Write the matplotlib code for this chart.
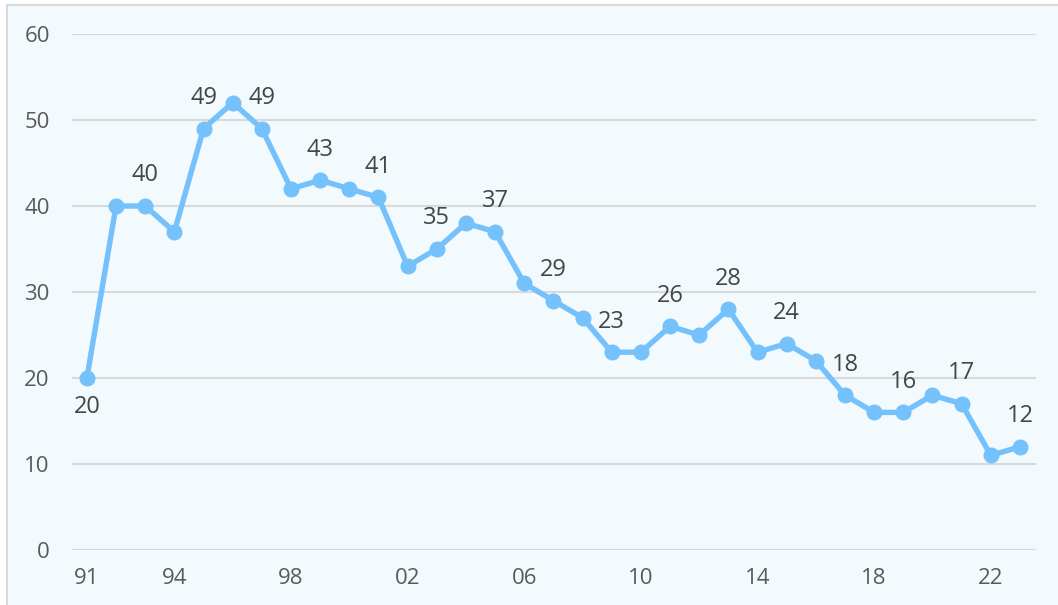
import matplotlib.pyplot as plt
from matplotlib.patches import Rectangle

plt.rcParams['font.family'] = ['Open Sans', 'DejaVu Sans']

years = list(range(1991, 2024))
values = [20, 40, 40, 37, 49, 52, 49, 42, 43, 42, 41, 33, 35, 38, 37, 31, 29,
          27, 23, 23, 26, 25, 28, 23, 24, 22, 18, 16, 16, 18, 17, 11, 12]
# value labels shown on the chart (index -> text), odd years only
label_idx = list(range(0, 33, 2))
label_text = ['20', '40', '49', '49', '43', '41', '35', '37', '29', '23',
              '26', '28', '24', '18', '16', '17', '12']
tick_years = [1991, 1994, 1998, 2002, 2006, 2010, 2014, 2018, 2022]
tick_labels = ['91', '94', '98', '02', '06', '10', '14', '18', '22']

W, H = 1058, 605
fig = plt.figure(figsize=(W / 100, H / 100), dpi=100)
fig.patch.set_facecolor('white')
fig.patches.append(Rectangle((7 / W, -0.1), 1.2, 1 - 5 / H + 0.1,
                             transform=fig.transFigure, facecolor='#f2fafd',
                             edgecolor='#d9d9d9', linewidth=1.5, zorder=-1))

ax = fig.add_axes([72 / W, 1 - 550 / H, (1036 - 72) / W, (550 - 34) / H])
ax.set_facecolor('none')

x = list(range(len(years)))
ax.plot(x, values, color='#75c1fb', lw=3.9, marker='o', ms=10.5,
        solid_joinstyle='round', zorder=3, clip_on=False)

for i, t in zip(label_idx, label_text):
    dy = -21 if i == 0 else 22
    ax.annotate(t, (x[i], values[i]), xytext=(0, dy), textcoords='offset points',
                ha='center', va='center', fontsize=17, color='#454545')

ax.set_xlim(-0.51, 32.55)
ax.set_ylim(0, 60)
ax.set_yticks(range(0, 61, 10))
ax.set_xticks([years.index(y) for y in tick_years])
ax.set_xticklabels(tick_labels)
ax.tick_params(axis='both', length=0, labelsize=16, labelcolor='#5a5a5a')
ax.tick_params(axis='x', pad=13)
ax.tick_params(axis='y', pad=16)
ax.grid(axis='y', color='#d9d9d9', lw=1.5)
ax.set_axisbelow(True)
for s in ax.spines.values():
    s.set_visible(False)

fig.savefig('out.png', dpi=100)
